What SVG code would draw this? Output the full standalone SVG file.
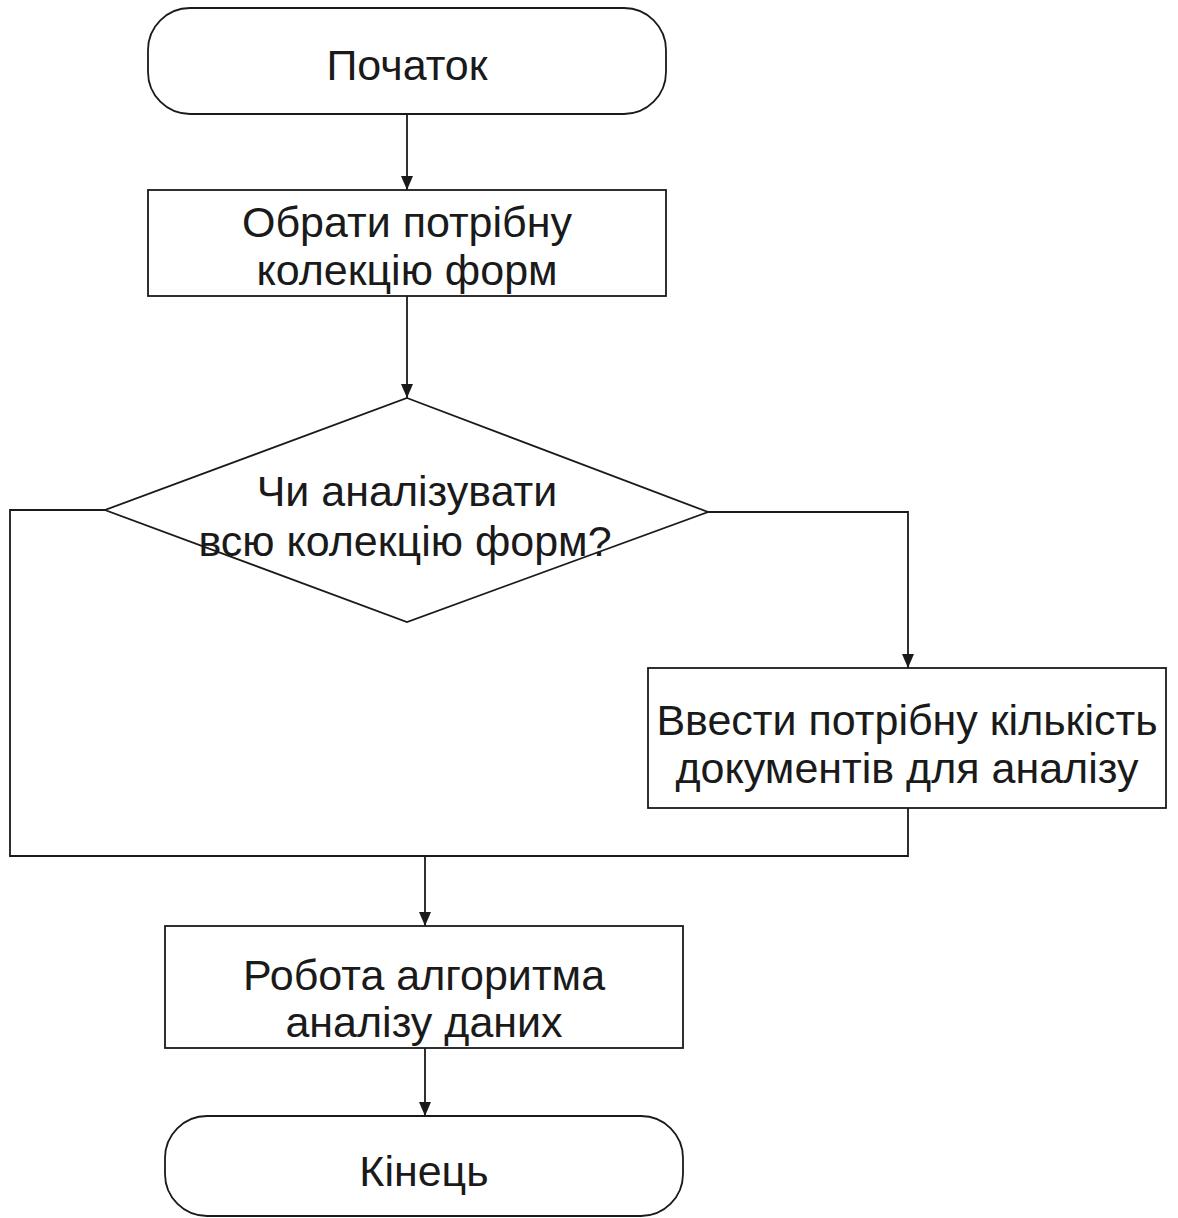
<svg xmlns="http://www.w3.org/2000/svg" width="1178" height="1218" viewBox="0 0 1178 1218">
<style>
.shape{fill:#fff;stroke:#1a1a1a;stroke-width:1.8}
.conn{fill:none;stroke:#1a1a1a;stroke-width:1.8}
.t{font-family:"Liberation Sans",Arial,sans-serif;font-size:43px;fill:#1a1a1a;text-anchor:middle}
</style>
<defs>
<marker id="ah" viewBox="0 0 14 12" refX="14" refY="6" markerWidth="14" markerHeight="12" markerUnits="userSpaceOnUse" orient="auto">
<path d="M0,0 L14,6 L0,12 z" fill="#1a1a1a"/>
</marker>
</defs>
<rect width="1178" height="1218" fill="#fff"/>
<g id="connectors">
<path class="conn" d="M407,114 V190" marker-end="url(#ah)"/>
<path class="conn" d="M407,296 V398" marker-end="url(#ah)"/>
<path class="conn" d="M708,512 H908 V668" marker-end="url(#ah)"/>
<path class="conn" d="M105,510 H10 V856 H908 V808"/>
<path class="conn" d="M425,856 V926" marker-end="url(#ah)"/>
<path class="conn" d="M425,1048 V1116" marker-end="url(#ah)"/>
</g>
<g id="start">
<rect class="shape" x="148" y="8" width="518" height="106" rx="42" ry="42"/>
<text class="t" x="407" y="80">Початок</text>
</g>
<g id="select">
<rect class="shape" x="148" y="190" width="518" height="106"/>
<text class="t" x="407" y="237">Обрати потрібну</text>
<text class="t" x="407" y="285">колекцію форм</text>
</g>
<g id="decision">
<polygon class="shape" points="407,398 708,512 407,622 105,510"/>
<text class="t" x="407" y="506">Чи аналізувати</text>
<text class="t" x="405" y="556">всю колекцію форм?</text>
</g>
<g id="input">
<rect class="shape" x="648" y="668" width="518" height="140"/>
<text class="t" x="907" y="735">Ввести потрібну кількість</text>
<text class="t" x="907" y="783">документів для аналізу</text>
</g>
<g id="process">
<rect class="shape" x="165" y="926" width="518" height="122"/>
<text class="t" x="424" y="990">Робота алгоритма</text>
<text class="t" x="424" y="1037">аналізу даних</text>
</g>
<g id="end">
<rect class="shape" x="165" y="1116" width="518" height="100" rx="42" ry="42"/>
<text class="t" x="424" y="1186">Кінець</text>
</g>
</svg>
